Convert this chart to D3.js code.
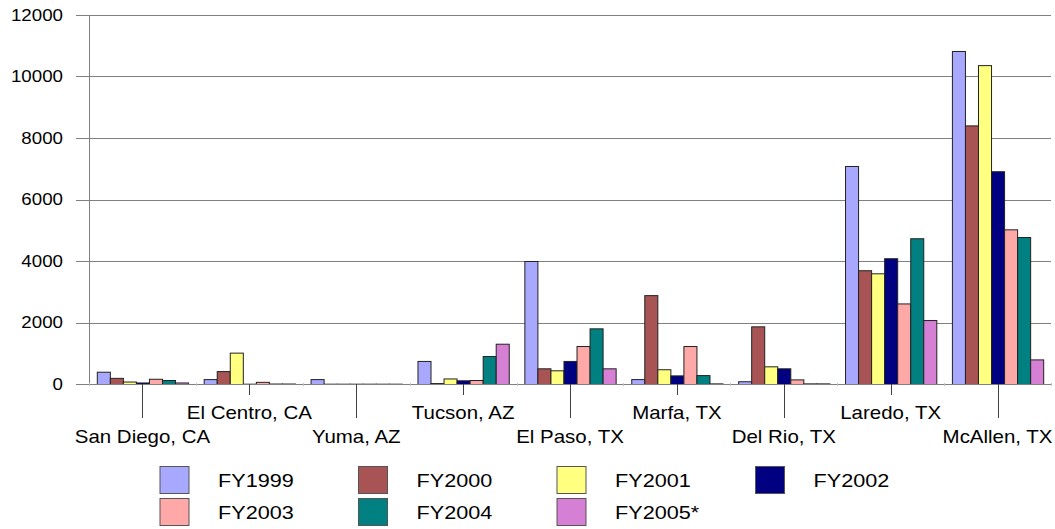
<!DOCTYPE html>
<html>
<head>
<meta charset="utf-8">
<script src="https://cdn.jsdelivr.net/npm/d3@7"></script>
<style>
  html, body { margin: 0; padding: 0; background: #fff; }
  svg { display: block; font-family: "Liberation Sans", Arial, sans-serif; }
</style>
</head>
<body>
<svg id="chart" width="1055" height="529"></svg>
<script>
const categories = ["San Diego, CA", "El Centro, CA", "Yuma, AZ", "Tucson, AZ", "El Paso, TX",
                    "Marfa, TX", "Del Rio, TX", "Laredo, TX", "McAllen, TX"];
const seriesNames = ["FY1999", "FY2000", "FY2001", "FY2002", "FY2003", "FY2004", "FY2005*"];
const fy1999 = [400, 160, 160, 750, 4000, 160, 90, 7090, 10830];
const fy2000 = [200, 420, 10, 30, 510, 2890, 1875, 3700, 8410];
const fy2001 = [80, 1020, 10, 180, 445, 480, 575, 3600, 10370];
const fy2002 = [50, 10, 10, 120, 750, 280, 510, 4090, 6920];
const fy2003 = [170, 70, 10, 130, 1235, 1235, 150, 2620, 5030];
const fy2004 = [130, 15, 10, 910, 1810, 290, 20, 4740, 4780];
const fy2005 = [50, 15, 10, 1310, 510, 20, 20, 2080, 800];
const seriesValues = [fy1999, fy2000, fy2001, fy2002, fy2003, fy2004, fy2005];
const colors = ["#A8A8FF", "#A85454", "#FFFF80", "#000080", "#FFA8A8", "#008080", "#D580D5"];
const yTicks = [0, 2000, 4000, 6000, 8000, 10000, 12000];

(function () {
const svg = d3.select("#chart");
const pLeft = 89, pRight = 1051, pTop = 15, pBottom = 384;
const SX = 1.17; // horizontal text stretch as in the reference

const y = d3.scaleLinear().domain([0, 12000]).range([pBottom, pTop]);
const x0 = d3.scaleBand().domain(categories).range([pLeft, pRight])
  .paddingInner(0.146).paddingOuter(0.073);
const x1 = d3.scaleBand().domain(seriesNames).range([0, x0.bandwidth()]).padding(0);
const step = x0.step();

// gridlines
svg.append("g").selectAll("line").data(yTicks.filter(d => d > 0)).join("line")
  .attr("x1", pLeft).attr("x2", pRight)
  .attr("y1", d => Math.round(y(d)) + 0.5).attr("y2", d => Math.round(y(d)) + 0.5)
  .attr("stroke", "#808080").attr("stroke-width", 1);

// y axis ticks & labels
const yAxis = svg.append("g");
yAxis.selectAll("line").data(yTicks).join("line")
  .attr("x1", 76).attr("x2", pLeft)
  .attr("y1", d => Math.round(y(d)) + 0.5).attr("y2", d => Math.round(y(d)) + 0.5)
  .attr("stroke", "#808080");
yAxis.selectAll("text").data(yTicks).join("text")
  .attr("transform", d => `translate(63,${y(d)}) scale(${SX},1)`)
  .attr("dy", "0.36em").attr("text-anchor", "end")
  .attr("font-size", 16).attr("fill", "#000")
  .text(d => d);
svg.append("line").attr("x1", pLeft + 0.5).attr("x2", pLeft + 0.5)
  .attr("y1", pTop).attr("y2", pBottom + 0.5).attr("stroke", "#808080");

// bars
const groups = svg.append("g").selectAll("g").data(categories).join("g")
  .attr("transform", c => `translate(${x0(c)},0)`);
groups.selectAll("rect")
  .data((c, i) => seriesNames.map((s, j) => ({ s, v: seriesValues[j][i], c: colors[j] })))
  .join("rect")
  .attr("x", d => x1(d.s) + 0.5)
  .attr("y", d => y(d.v) + 0.5)
  .attr("width", x1.bandwidth())
  .attr("height", d => Math.max(0, pBottom - y(d.v)))
  .attr("fill", d => d.c)
  .attr("stroke", "#222").attr("stroke-width", 1);

// x axis line
svg.append("line").attr("x1", pLeft).attr("x2", pRight)
  .attr("y1", pBottom + 0.5).attr("y2", pBottom + 0.5).attr("stroke", "#808080");
// band boundary small ticks
svg.append("g").selectAll("line").data(d3.range(categories.length + 1)).join("line")
  .attr("x1", i => Math.round(pLeft + i * step) + 0.5).attr("x2", i => Math.round(pLeft + i * step) + 0.5)
  .attr("y1", pBottom - 1).attr("y2", pBottom + 2)
  .attr("stroke", "#c0c0c0");

// category label leader ticks and labels (staggered)
const xl = svg.append("g");
categories.forEach((c, i) => {
  const cx = x0(c) + x0.bandwidth() / 2;
  const low = i % 2 === 0;
  xl.append("line")
    .attr("x1", Math.round(cx) + 0.5).attr("x2", Math.round(cx) + 0.5)
    .attr("y1", pBottom).attr("y2", low ? 418 : 395)
    .attr("stroke", "#404040");
  xl.append("text")
    .attr("transform", `translate(${cx},${low ? 442.7 : 419}) scale(${SX},1)`)
    .attr("text-anchor", "middle").attr("font-size", 17.5).attr("fill", "#000")
    .text(c);
});

// legend
const legX = [159.5, 358, 556.5, 755];
const legY = [466, 498];
const leg = svg.append("g");
seriesNames.forEach((s, j) => {
  const col = j % 4, row = Math.floor(j / 4);
  leg.append("rect")
    .attr("x", legX[col] + 0.5).attr("y", legY[row] + 0.5)
    .attr("width", 29).attr("height", 27)
    .attr("fill", colors[j]).attr("stroke", "#555");
  leg.append("text")
    .attr("transform", `translate(${legX[col] + 58.5},${legY[row] + 20.7}) scale(${SX},1)`)
    .attr("font-size", 18.5).attr("fill", "#000")
    .text(s);
});
})();
</script>
</body>
</html>
